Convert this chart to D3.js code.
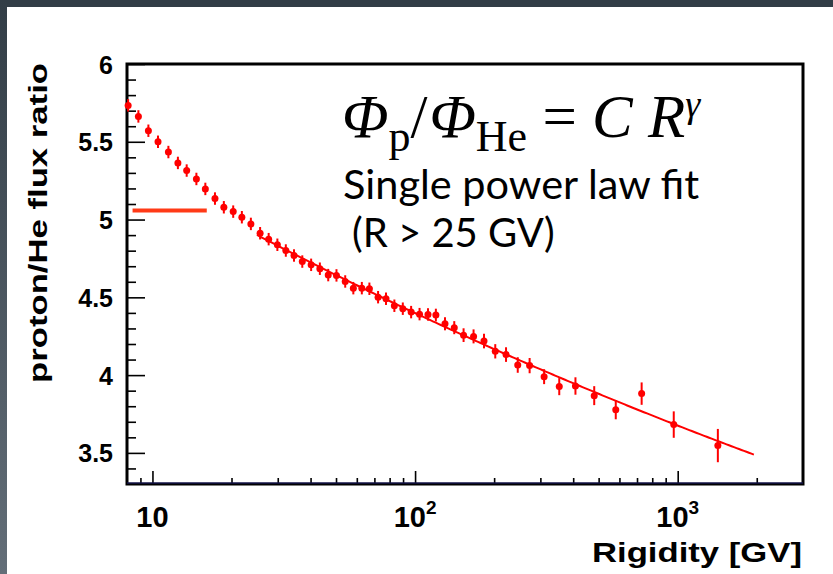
<!DOCTYPE html>
<html><head><meta charset="utf-8">
<script src="https://cdn.jsdelivr.net/npm/d3@7"></script>
<style>body{margin:0;background:#fff;overflow:hidden} svg{display:block}
.lab{font-family:'Liberation Sans',Arimo,Arial,Helvetica,sans-serif;font-weight:bold;fill:#000}
</style>
</head><body><svg id="c" width="833" height="574"></svg>
<script>
// ---- data ----
const rigidity = [8.08, 8.84, 9.65, 10.5, 11.5, 12.5, 13.5, 14.7, 15.9, 17.3, 18.7, 20.3, 21.9, 23.7,
  25.7, 27.7, 29.9, 32.2, 34.6, 37.2, 40.2, 43.4, 46.7, 50.2, 54.2, 58.2, 62.7, 67.0, 72.3, 77.5,
  83.4, 89.8, 96.6, 104, 112, 120, 130, 141, 153, 167, 183, 202, 222, 246, 273, 310, 354, 408,
  481, 581, 729, 966, 1422];
const ratio = [5.734, 5.663, 5.571, 5.500, 5.434, 5.364, 5.315, 5.261, 5.197, 5.135, 5.079, 5.051,
  5.015, 4.972, 4.912, 4.874, 4.838, 4.801, 4.769, 4.730, 4.709, 4.684, 4.643, 4.641, 4.602, 4.559,
  4.559, 4.555, 4.501, 4.491, 4.446, 4.427, 4.405, 4.392, 4.390, 4.386, 4.330, 4.305, 4.257, 4.249,
  4.219, 4.153, 4.132, 4.065, 4.061, 3.990, 3.926, 3.930, 3.868, 3.778, 3.881, 3.682, 3.547];
const ratioErr = [0.040, 0.040, 0.040, 0.040, 0.040, 0.040, 0.040, 0.040, 0.040, 0.040, 0.040, 0.040,
  0.040, 0.040, 0.040, 0.040, 0.040, 0.040, 0.040, 0.040, 0.040, 0.040, 0.040, 0.040, 0.040, 0.040,
  0.040, 0.040, 0.040, 0.040, 0.040, 0.040, 0.040, 0.040, 0.040, 0.041, 0.042, 0.042, 0.044, 0.045,
  0.047, 0.046, 0.047, 0.050, 0.049, 0.048, 0.055, 0.056, 0.061, 0.062, 0.072, 0.085, 0.107];
const fitC = 6.30, fitGamma = -0.078;
const fitRange = [25, 1950];
const legendLineR = [8.4, 16.1], legendLineV = 5.058;
const yMajorTicks = [3.5, 4, 4.5, 5, 5.5, 6];
const yTickLabels = ["3.5", "4", "4.5", "5", "5.5", "6"];
const yMinorTicks = [3.4, 3.6, 3.7, 3.8, 3.9, 4.1, 4.2, 4.3, 4.4, 4.6, 4.7, 4.8, 4.9, 5.1, 5.2, 5.3, 5.4, 5.6, 5.7, 5.8, 5.9];
const xMajorTicks = [10, 100, 1000];
const xTickLabels = [["10", ""], ["10", "2"], ["10", "3"]];
const xMinorTicks = [9, 20, 30, 40, 50, 60, 70, 80, 90, 200, 300, 400, 500, 600, 700, 800, 900, 2000];
const xTitle = "Rigidity [GV]";
const yTitle = "proton/He flux ratio";

// ---- drawing ----
const svg = d3.select("#c");
const defs = svg.append("defs");
const grad = defs.append("linearGradient").attr("id", "lg").attr("x1", 0).attr("y1", 0).attr("x2", 0).attr("y2", 1);
grad.append("stop").attr("offset", "0%").attr("stop-color", "#323d46");
grad.append("stop").attr("offset", "100%").attr("stop-color", "#636e78");
svg.append("rect").attr("width", 833).attr("height", 574).attr("fill", "#fff");
svg.append("rect").attr("x", 0).attr("y", 0).attr("width", 833).attr("height", 7).attr("fill", "#323d46");
svg.append("rect").attr("x", 0).attr("y", 0).attr("width", 7).attr("height", 574).attr("fill", "url(#lg)");

const L = 127, R = 803, T = 64, B = 484;
const x = d3.scaleLog().domain([8, 3000]).range([L, R]);
const y = d3.scaleLinear().domain([3.3, 6]).range([B, T]);
const red = "#ff0000";

// axes (ticks inward, via d3 axis generators in separate groups)
function ticksGroup(axis, tf) {
  const g = svg.append("g").attr("transform", tf).call(axis);
  g.select(".domain").remove();
  g.selectAll("line").attr("stroke", "#000").attr("stroke-width", 1.6);
  return g;
}
ticksGroup(d3.axisLeft(y).tickValues(yMinorTicks).tickSize(-9).tickFormat(""), `translate(${L},0)`);
const gy = ticksGroup(d3.axisLeft(y).tickValues(yMajorTicks).tickSize(-18).tickPadding(14)
  .tickFormat((d, i) => yTickLabels[i]), `translate(${L},0)`);
gy.attr("font-size", null).attr("font-family", null);
gy.selectAll("text").attr("class", "lab").attr("fill", null)
  .style("font-size", "25px").attr("dy", "0.36em");
ticksGroup(d3.axisBottom(x).tickValues(xMinorTicks).tickSize(-6).tickFormat(""), `translate(0,${B})`);
ticksGroup(d3.axisBottom(x).tickValues(xMajorTicks).tickSize(-13).tickFormat(""), `translate(0,${B})`);

const xl = svg.append("g");
xMajorTicks.forEach((v, i) => {
  const t = xl.append("text").attr("class", "lab").attr("x", x(v)).attr("y", 527)
    .attr("text-anchor", "middle").style("font-size", "29px");
  t.append("tspan").text(xTickLabels[i][0]);
  if (xTickLabels[i][1]) t.append("tspan").style("font-size", "19px").attr("dy", -13).text(xTickLabels[i][1]);
});

// frame
svg.append("rect").attr("x", L).attr("y", T).attr("width", R - L).attr("height", B - T)
  .attr("fill", "none").attr("stroke", "#000").attr("stroke-width", 3);
svg.append("line").attr("x1", L).attr("x2", R).attr("y1", B - 1).attr("y2", B - 1)
  .attr("stroke", "#1c1c6a").attr("stroke-width", 1);

// titles
svg.append("text").attr("class", "lab").attr("x", 802).attr("y", 562).attr("text-anchor", "end")
  .style("font-size", "28px").attr("textLength", 210).attr("lengthAdjust", "spacingAndGlyphs").text(xTitle);
svg.append("text").attr("class", "lab").attr("transform", "translate(47,223) rotate(-90)").attr("text-anchor", "middle")
  .style("font-size", "26px").attr("textLength", 320).attr("lengthAdjust", "spacingAndGlyphs").text(yTitle);

// fit curve
const fitR = d3.range(0, 201).map(i => fitRange[0] * Math.pow(fitRange[1] / fitRange[0], i / 200));
svg.append("path").datum(fitR)
  .attr("d", d3.line().x(r => x(r)).y(r => y(fitC * Math.pow(r, fitGamma))))
  .attr("fill", "none").attr("stroke", red).attr("stroke-width", 2);

// data points with error bars
const pts = svg.append("g");
rigidity.forEach((r, i) => {
  pts.append("line").attr("x1", x(r)).attr("x2", x(r))
    .attr("y1", y(ratio[i] - ratioErr[i])).attr("y2", y(ratio[i] + ratioErr[i]))
    .attr("stroke", red).attr("stroke-width", 2);
  pts.append("circle").attr("cx", x(r)).attr("cy", y(ratio[i])).attr("r", 3.5).attr("fill", red);
});

// legend line
svg.append("line").attr("x1", x(legendLineR[0])).attr("x2", x(legendLineR[1]))
  .attr("y1", y(legendLineV)).attr("y2", y(legendLineV))
  .attr("stroke", "#ff3a17").attr("stroke-width", 4);

// formula
const serif = "'Liberation Serif', 'Times New Roman', serif";
const f = svg.append("text").attr("x", 342).attr("y", 137).attr("font-family", serif).style("font-size", "61px").attr("fill", "#000");
f.append("tspan").attr("font-style", "italic").text("Φ");
f.append("tspan").style("font-size", "44px").attr("dy", 14).text("p");
f.append("tspan").attr("dy", -14).attr("dx", 0).text("/");
f.append("tspan").attr("font-style", "italic").attr("dx", 2).text("Φ");
f.append("tspan").style("font-size", "44px").attr("dy", 14).text("He");
f.append("tspan").attr("dy", -14).text(" = ");
f.append("tspan").attr("font-style", "italic").text("C R");
f.append("tspan").attr("font-style", "italic").style("font-size", "38px").attr("dy", -20).text("γ");

const sans = "Lato, 'Open Sans', sans-serif";
svg.append("text").attr("x", 343).attr("y", 199).attr("font-family", sans).style("font-size", "41.5px").text("Single power law fit");
svg.append("text").attr("x", 352).attr("y", 247).attr("font-family", sans).style("font-size", "40px").text("(R > 25 GV)");
</script>
</body></html>
